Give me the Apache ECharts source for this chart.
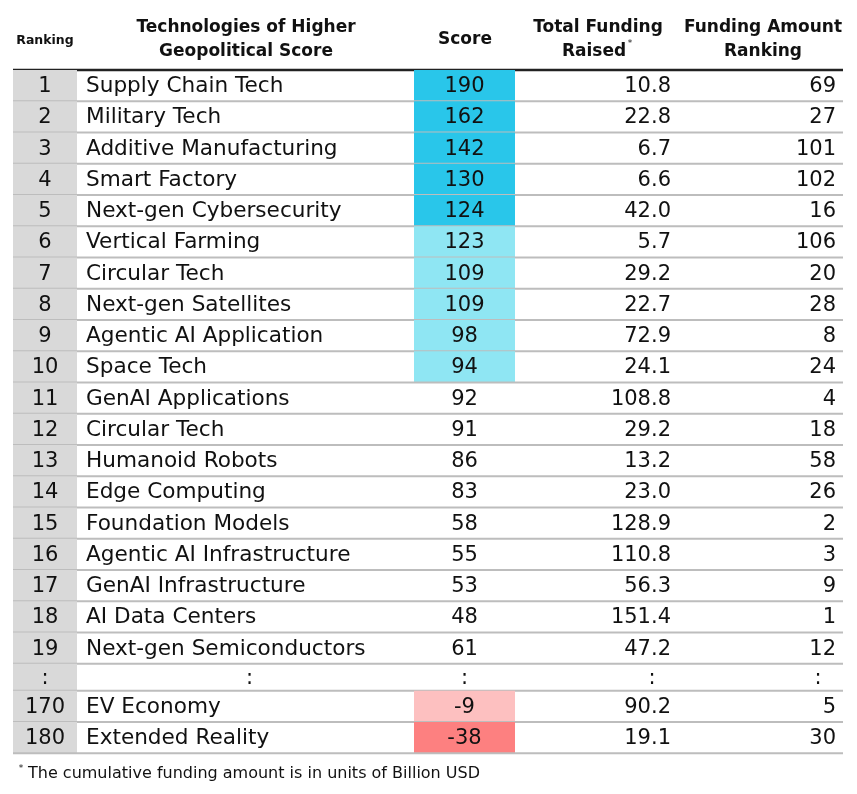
<!DOCTYPE html>
<html><head><meta charset="utf-8">
<script src="https://cdn.jsdelivr.net/npm/echarts@6/dist/echarts.min.js"></script>
<style>html,body{margin:0;padding:0;background:#fff}#c{width:857px;height:794px}</style>
</head><body><div id="c"></div>
<script>
// ---------- data ----------
const ranks = ['1','2','3','4','5','6','7','8','9','10','11','12','13','14','15','16','17','18','19',':','170','180'];
const technologies = ['Supply Chain Tech','Military Tech','Additive Manufacturing','Smart Factory','Next-gen Cybersecurity',
  'Vertical Farming','Circular Tech','Next-gen Satellites','Agentic AI Application','Space Tech','GenAI Applications',
  'Circular Tech','Humanoid Robots','Edge Computing','Foundation Models','Agentic AI Infrastructure','GenAI Infrastructure',
  'AI Data Centers','Next-gen Semiconductors',':','EV Economy','Extended Reality'];
const scores = [190,162,142,130,124,123,109,109,98,94,92,91,86,83,58,55,53,48,61,null,-9,-38];
const fundingRaised = [10.8,22.8,6.7,6.6,42.0,5.7,29.2,22.7,72.9,24.1,108.8,29.2,13.2,23.0,128.9,110.8,56.3,151.4,47.2,null,90.2,19.1];
const fundingRanks = [69,27,101,102,16,106,20,28,8,24,4,18,58,26,2,3,9,1,12,null,5,30];
const headerLabels = {
  ranking: 'Ranking',
  tech: ['Technologies of Higher','Geopolitical Score'],
  score: 'Score',
  funding: ['Total Funding','Raised'],
  fundingRank: ['Funding Amount','Ranking']
};
const footnote = 'The cumulative funding amount is in units of Billion USD';

// ---------- layout ----------
const FONT = '"DejaVu Sans", "Noto Sans", sans-serif';
const TABLE_L = 13, TABLE_R = 843;
const RANK_R = 77, SCORE_L = 414, SCORE_R = 515;
const ELLIPSIS_H = 27 / 31.25;
const rowH = ranks.map(r => r === ':' ? ELLIPSIS_H : 1);
const rowTop = [];
let acc = 0;
rowH.forEach(h => { rowTop.push(acc); acc += h; });
const TOTAL = acc;

function scoreColor(i) {
  const r = Number(ranks[i]), s = scores[i];
  if (s == null) return null;
  if (s < -20) return '#FD8080';
  if (s < 0) return '#FDC0C0';
  if (r <= 5) return '#29C6EA';
  if (r <= 10) return '#8FE6F3';
  return null;
}

function renderItem(params, api) {
  const i = api.value(0);
  const top = rowTop[i], bot = rowTop[i] + rowH[i];
  const pTL = api.coord([TABLE_L, top]);
  const pBR = api.coord([TABLE_R, bot]);
  const y0 = pTL[1], y1 = pBR[1], ym = (y0 + y1) / 2 + 1;
  const xr = api.coord([RANK_R, top])[0];
  const xs0 = api.coord([SCORE_L, top])[0];
  const xs1 = api.coord([SCORE_R, top])[0];
  const children = [];
  children.push({ type: 'rect', shape: { x: pTL[0], y: y0, width: xr - pTL[0], height: y1 - y0 }, style: { fill: '#D9D9D9' } });
  const c = scoreColor(i);
  if (c) children.push({ type: 'rect', shape: { x: xs0, y: y0, width: xs1 - xs0, height: y1 - y0 }, style: { fill: c } });
  const ell = ranks[i] === ':';
  const fNum = '21px ' + FONT;
  const fName = '21.6px ' + FONT;
  const txt = (t, x, align, f) => ({ type: 'text', style: { text: t, x: x, y: ym, font: f || fNum, fill: '#111', textAlign: align, verticalAlign: 'middle' } });
  children.push(txt(ranks[i], (pTL[0] + xr) / 2, 'center'));
  if (ell) {
    children.push(txt(':', (xr + xs0) / 2 + 4, 'center'));
    children.push(txt(':', (xs0 + xs1) / 2, 'center'));
    children.push(txt(':', api.coord([652, 0])[0], 'center'));
    children.push(txt(':', api.coord([818, 0])[0], 'center'));
  } else {
    children.push(txt(technologies[i], api.coord([86, 0])[0], 'left', fName));
    children.push(txt(String(scores[i]), (xs0 + xs1) / 2, 'center'));
    children.push(txt(fundingRaised[i].toFixed(1), api.coord([671, 0])[0], 'right'));
    children.push(txt(String(fundingRanks[i]), api.coord([836, 0])[0], 'right'));
  }
  children.push({ type: 'line', shape: { x1: pTL[0], y1: y1, x2: pBR[0], y2: y1 }, style: { stroke: '#BDBDBD', lineWidth: 2 } });
  return { type: 'group', children };
}

const chart = echarts.init(document.getElementById('c'), null, { renderer: 'canvas' });
const hb = (t, x, y, size, align) => ({ type: 'text', x: x, y: y, style: { text: t, font: 'bold ' + size + 'px ' + FONT, fill: '#111', textAlign: align || 'center', textVerticalAlign: 'middle' } });

chart.setOption({
  animation: false,
  backgroundColor: '#fff',
  grid: { left: 0, right: 0, top: 70, bottom: 794 - 753.25 },
  xAxis: { type: 'value', min: 0, max: 857, show: false },
  yAxis: { type: 'value', min: 0, max: TOTAL, inverse: true, show: false },
  series: [{
    type: 'custom',
    renderItem: renderItem,
    data: ranks.map((r, i) => [i]),
    encode: { x: -1, y: 0 },
    clip: false
  }],
  graphic: [
    hb(headerLabels.ranking, 45, 41, 12.5),
    hb(headerLabels.tech[0], 246, 28, 17),
    hb(headerLabels.tech[1], 246, 52, 17),
    hb(headerLabels.score, 465, 40, 17),
    hb(headerLabels.funding[0], 598, 28, 17),
    hb(headerLabels.funding[1], 594, 52, 17),
    { type: 'text', x: 630, y: 44, style: { text: '*', font: '9px ' + FONT, fill: '#111', textAlign: 'center', textVerticalAlign: 'middle' } },
    hb(headerLabels.fundingRank[0], 763, 28, 17),
    hb(headerLabels.fundingRank[1], 763, 52, 17),
    { type: 'line', shape: { x1: 13, y1: 70, x2: 843, y2: 70 }, style: { stroke: '#222', lineWidth: 2.5 } },
    { type: 'text', x: 21, y: 769, style: { text: '*', font: '9px ' + FONT, fill: '#111', textAlign: 'center', textVerticalAlign: 'middle' } },
    { type: 'text', x: 28, y: 774, style: { text: footnote, font: '16px ' + FONT, fill: '#111', textAlign: 'left', textVerticalAlign: 'middle' } }
  ]
});
</script></body></html>
